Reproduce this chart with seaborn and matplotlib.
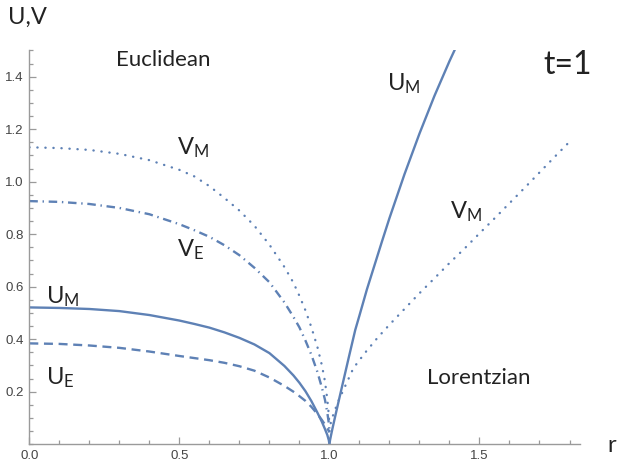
import numpy as np
import pandas as pd
import matplotlib
matplotlib.use("Agg")
import matplotlib.pyplot as plt
from matplotlib.ticker import MultipleLocator, FixedLocator
import seaborn as sns

# Euclidean branch, 0 <= r <= 1
r_left = [0.0, 0.1, 0.2, 0.3, 0.4, 0.5, 0.55, 0.6, 0.65, 0.7, 0.75, 0.8, 0.85,
          0.88, 0.9, 0.92, 0.94, 0.96, 0.975, 0.985, 0.993, 0.998, 1.0]
vm_left = [1.131, 1.128, 1.121, 1.106, 1.082, 1.045, 1.02, 0.983, 0.938, 0.89,
           0.832, 0.76, 0.675, 0.615, 0.565, 0.51, 0.445, 0.37, 0.30, 0.24,
           0.17, 0.11, 0.07]
ve_left = [0.926, 0.923, 0.915, 0.900, 0.876, 0.838, 0.815, 0.79, 0.758, 0.72,
           0.672, 0.617, 0.54, 0.485, 0.445, 0.395, 0.34, 0.275, 0.215, 0.17,
           0.12, 0.08, 0.05]
um_left = [0.521, 0.519, 0.515, 0.507, 0.492, 0.471, 0.458, 0.444, 0.426, 0.405,
           0.38, 0.347, 0.298, 0.262, 0.234, 0.202, 0.164, 0.12, 0.085, 0.058,
           0.035, 0.015, 0.0]
ue_left = [0.384, 0.382, 0.376, 0.367, 0.353, 0.336, 0.328, 0.32, 0.31, 0.297,
           0.28, 0.254, 0.222, 0.20, 0.183, 0.165, 0.142, 0.115, 0.092, 0.075,
           0.06, 0.05, 0.045]

# Lorentzian branch, r >= 1
r_um_right = [1.0, 1.002, 1.005, 1.01, 1.02, 1.035, 1.05, 1.065, 1.086, 1.1,
              1.125, 1.15, 1.175, 1.2, 1.25, 1.3, 1.35, 1.4, 1.43]
um_right = [0.0, 0.015, 0.032, 0.059, 0.11, 0.185, 0.259, 0.333, 0.435, 0.49,
            0.59, 0.681, 0.772, 0.861, 1.028, 1.183, 1.327, 1.459, 1.533]
r_vm_right = [1.0, 1.005, 1.015, 1.03, 1.05, 1.08, 1.12, 1.16, 1.2, 1.25, 1.3,
              1.35, 1.4, 1.45, 1.5, 1.55, 1.6, 1.65, 1.7, 1.75, 1.8]
vm_right = [0.05, 0.085, 0.12, 0.165, 0.215, 0.29, 0.35, 0.405, 0.455, 0.515,
            0.575, 0.632, 0.69, 0.745, 0.803, 0.86, 0.918, 0.976, 1.035, 1.094, 1.152]

x_ticks = [0.0, 0.5, 1.0, 1.5]
x_ticklabels = ["0.0", "0.5", "1.0", "1.5"]
y_ticks = [0.2, 0.4, 0.6, 0.8, 1.0, 1.2, 1.4]
y_ticklabels = ["0.2", "0.4", "0.6", "0.8", "1.0", "1.2", "1.4"]

sns.set_style("white")
plt.rcParams["font.family"] = ["Lato", "DejaVu Sans"]
plt.rcParams["mathtext.default"] = "regular"

blue = "#5E81B5"
lw = 1.7
dots = (0, (0.1, 3.3))

fig = plt.figure(figsize=(6.2, 4.69), dpi=100)
ax = fig.add_axes([0.0473, 0.0529, 0.8882, 0.8396])

sns.lineplot(x=r_left, y=vm_left, ax=ax, color=blue, lw=lw, sort=False,
             linestyle=dots, dash_capstyle="round")
sns.lineplot(x=r_left, y=ve_left, ax=ax, color=blue, lw=lw, sort=False,
             linestyle=(0, (3.6, 2.0, 0.6, 2.0)))
sns.lineplot(x=r_left, y=um_left, ax=ax, color=blue, lw=lw, sort=False)
sns.lineplot(x=r_left, y=ue_left, ax=ax, color=blue, lw=lw, sort=False,
             linestyle=(0, (3.8, 2.4)))
sns.lineplot(x=r_um_right, y=um_right, ax=ax, color=blue, lw=lw, sort=False)
sns.lineplot(x=r_vm_right, y=vm_right, ax=ax, color=blue, lw=lw, sort=False,
             linestyle=dots, dash_capstyle="round")

ax.set_xlim(0, 1.835)
ax.set_ylim(0, 1.5)
for side in ["top", "right"]:
    ax.spines[side].set_visible(False)
for side in ["left", "bottom"]:
    ax.spines[side].set_color("#9a9a9a")
    ax.spines[side].set_linewidth(1.0)

ax.xaxis.set_major_locator(FixedLocator(x_ticks))
ax.set_xticklabels(x_ticklabels)
ax.xaxis.set_minor_locator(MultipleLocator(0.1))
ax.yaxis.set_major_locator(FixedLocator(y_ticks))
ax.set_yticklabels(y_ticklabels)
ax.yaxis.set_minor_locator(MultipleLocator(0.05))
ax.tick_params(which="both", direction="in", color="#9a9a9a", width=0.9,
               bottom=True, left=True)
ax.tick_params(which="major", length=5, labelsize=9.5, labelcolor="#444444", pad=4)
ax.tick_params(which="minor", length=3)
for lab in ax.get_xticklabels() + ax.get_yticklabels():
    lab.set_family("Liberation Sans")

tc = "#222222"
fig.text(0.044, 0.962, "U,V", fontsize=17, ha="center", va="center", color=tc)
fig.text(0.987, 0.051, "r", fontsize=17, ha="center", va="center", color=tc)
ax.text(0.446, 1.464, "Euclidean", fontsize=16, ha="center", va="center", color=tc)
ax.text(1.496, 0.252, "Lorentzian", fontsize=16, ha="center", va="center", color=tc)
ax.text(1.793, 1.445, "t=1", fontsize=23, ha="center", va="center", color=tc)

ax.text(0.492, 1.102, "$V_M$", fontsize=17, ha="left", va="baseline", color=tc)
ax.text(0.491, 0.717, "$V_E$", fontsize=17, ha="left", va="baseline", color=tc)
ax.text(0.056, 0.537, "$U_M$", fontsize=17, ha="left", va="baseline", color=tc)
ax.text(0.056, 0.226, "$U_E$", fontsize=17, ha="left", va="baseline", color=tc)
ax.text(1.191, 1.349, "$U_M$", fontsize=17, ha="left", va="baseline", color=tc)
ax.text(1.402, 0.861, "$V_M$", fontsize=17, ha="left", va="baseline", color=tc)

fig.savefig("out.png", dpi=100, facecolor="white")
